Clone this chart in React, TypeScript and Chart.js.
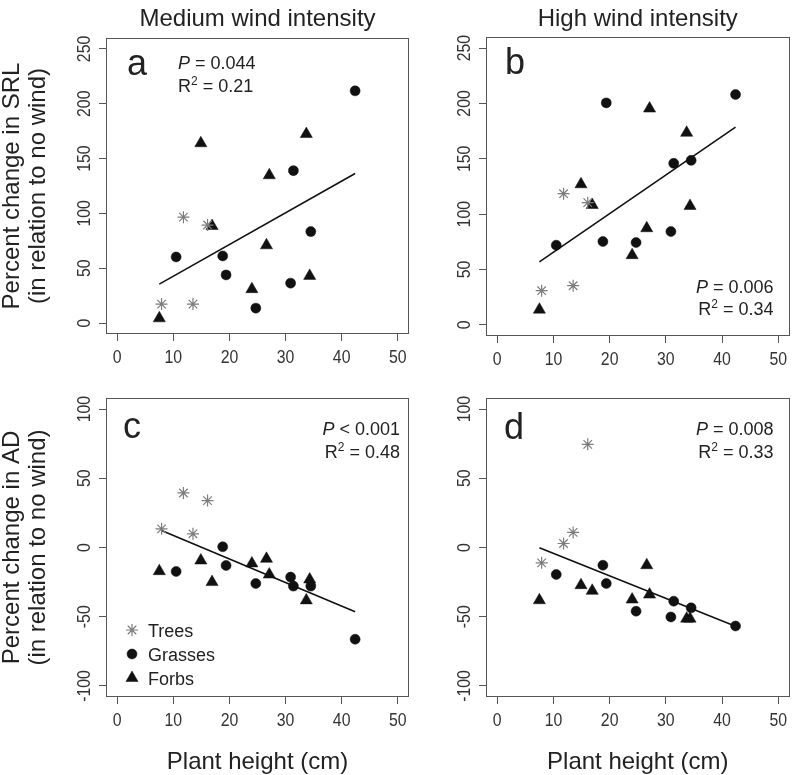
import React, { useEffect, useRef } from "react";
import { Chart, registerables } from "chart.js";
import { drawPoint } from "chart.js/helpers";

Chart.register(...registerables);

if (typeof document !== "undefined") document.body.style.margin = "0";

const W = 797;
const H = 775;

// ---------- data ----------
const xTicks = [0, 10, 20, 30, 40, 50];
const srlTicks = [0, 50, 100, 150, 200, 250];
const adTicks = [-100, -50, 0, 50, 100];

const treeHeight = [7.9, 11.8, 13.5, 16.1];
const grassHeight = [10.5, 18.8, 19.4, 24.7, 30.9, 31.4, 34.5, 42.4];
const forbHeight = [7.5, 14.9, 16.9, 24.0, 26.6, 27.1, 33.7, 34.3];

// a) SRL, medium wind
const srlMedTrees = [17.3, 96.6, 17.3, 89.4];
const srlMedGrasses = [60.3, 61.2, 43.9, 13.6, 36.4, 139, 83.4, 211.8];
const srlMedForbs = [4.3, 164, 88.5, 30.9, 70.9, 134.8, 172.4, 43];
const srlMedFitX = [7.5, 42.4];
const srlMedFitY = [35.5, 136.4];

// b) SRL, high wind
const srlHighTrees = [30.9, 118.5, 35.4, 110.4];
const srlHighGrasses = [72, 75.3, 200.5, 74.4, 84.3, 145.9, 148.6, 208];
const srlHighForbs = [13.8, 127, 108.3, 63, 87.3, 195.4, 173.5, 107.4];
const srlHighFitX = [7.5, 42.4];
const srlHighFitY = [57, 178.6];

// c) AD, medium wind
const adMedTrees = [13.5, 39.4, 9.9, 33.9];
const adMedGrasses = [-17.3, 0.5, -13, -26, -21.4, -27.9, -27.9, -66.3];
const adMedForbs = [-17.1, -9.4, -25, -11.5, -8.2, -19.5, -38.2, -23.1];
const adMedFitX = [7.9, 42.4];
const adMedFitY = [12.3, -46.4];

// d) AD, high wind
const adHighTrees = [-11.1, 2.9, 10.9, 74.5];
const adHighGrasses = [-19.5, -12.8, -26, -46, -50.2, -38.8, -43.6, -56.7];
const adHighForbs = [-38.1, -27.2, -31.3, -37.6, -12.8, -34, -51.4, -51.4];
const adHighFitX = [7.5, 42.4];
const adHighFitY = [-0.2, -56.9];

const groupLabels = ["Trees", "Grasses", "Forbs"];

// ---------- styling ----------
const FONT = "'Liberation Sans', Arial, Helvetica, sans-serif";
const TEXT = "#222";
const AXIS = "#555";
const TREE_COLOR = "#7d7d7d";
const DARK = "#111";
const TICK_SQUEEZE = 0.88;

type Area = { l: number; t: number; r: number; b: number };
type Panel = {
  area: Area;
  yMin: number;
  yMax: number;
  yTicks: number[];
  trees: number[];
  grasses: number[];
  forbs: number[];
  fitX: number[];
  fitY: number[];
  letter: string;
  letterOff: [number, number];
  pRel: string;
  pVal: string;
  r2: string;
  stats: { anchor: "left" | "right"; dx: number; fromBottom: boolean; dy1: number; dy2: number };
  colTitle?: string;
  yTitle?: string;
  xTitle?: string;
  legend?: boolean;
};

const panels: Panel[] = [
  {
    area: { l: 106, t: 38, r: 409, b: 334 },
    yMin: -10, yMax: 260, yTicks: srlTicks,
    trees: srlMedTrees, grasses: srlMedGrasses, forbs: srlMedForbs,
    fitX: srlMedFitX, fitY: srlMedFitY,
    letter: "a", letterOff: [21, 37],
    pRel: "=", pVal: "0.044", r2: "0.21",
    stats: { anchor: "left", dx: 72, fromBottom: false, dy1: 31, dy2: 54 },
    colTitle: "Medium wind intensity",
    yTitle: "Percent change in SRL",
  },
  {
    area: { l: 486, t: 37, r: 793, b: 336 },
    yMin: -10, yMax: 260, yTicks: srlTicks,
    trees: srlHighTrees, grasses: srlHighGrasses, forbs: srlHighForbs,
    fitX: srlHighFitX, fitY: srlHighFitY,
    letter: "b", letterOff: [19, 37],
    pRel: "=", pVal: "0.006", r2: "0.34",
    stats: { anchor: "right", dx: 16, fromBottom: true, dy1: 43, dy2: 21 },
    colTitle: "High wind intensity",
  },
  {
    area: { l: 106, t: 398, r: 409, b: 697 },
    yMin: -108, yMax: 108, yTicks: adTicks,
    trees: adMedTrees, grasses: adMedGrasses, forbs: adMedForbs,
    fitX: adMedFitX, fitY: adMedFitY,
    letter: "c", letterOff: [17, 40],
    pRel: "<", pVal: "0.001", r2: "0.48",
    stats: { anchor: "right", dx: 9, fromBottom: false, dy1: 37, dy2: 60 },
    yTitle: "Percent change in AD",
    xTitle: "Plant height (cm)",
    legend: true,
  },
  {
    area: { l: 486, t: 398, r: 793, b: 697 },
    yMin: -108, yMax: 108, yTicks: adTicks,
    trees: adHighTrees, grasses: adHighGrasses, forbs: adHighForbs,
    fitX: adHighFitX, fitY: adHighFitY,
    letter: "d", letterOff: [18, 41],
    pRel: "=", pVal: "0.008", r2: "0.33",
    stats: { anchor: "right", dx: 16, fromBottom: false, dy1: 37, dy2: 60 },
    xTitle: "Plant height (cm)",
  },
];

function f(size: number, style = "") {
  return `${style} ${size}px ${FONT}`.trim();
}

type Seg = { t: string; size: number; style?: string; rise?: number };

function drawSegs(ctx: CanvasRenderingContext2D, segs: Seg[], x: number, y: number, align: "left" | "right") {
  let total = 0;
  const widths = segs.map((s) => {
    ctx.font = f(s.size, s.style);
    const w = ctx.measureText(s.t).width;
    total += w;
    return w;
  });
  let cx = align === "left" ? x : x - total;
  ctx.textAlign = "left";
  ctx.textBaseline = "alphabetic";
  segs.forEach((s, i) => {
    ctx.font = f(s.size, s.style);
    ctx.fillText(s.t, cx, y - (s.rise || 0));
    cx += widths[i];
  });
}

function makePlugin(p: Panel) {
  return {
    id: "panelDecor",
    afterDraw(chart: any) {
      const ctx: CanvasRenderingContext2D = chart.ctx;
      const a = chart.chartArea;
      const xs = chart.scales.x;
      const ys = chart.scales.y;
      ctx.save();

      // box
      ctx.strokeStyle = AXIS;
      ctx.lineWidth = 1;
      ctx.strokeRect(Math.round(a.left) + 0.5, Math.round(a.top) + 0.5, Math.round(a.right - a.left) - 1, Math.round(a.bottom - a.top) - 1);

      // x tick labels (slightly condensed, like the original)
      ctx.fillStyle = "#333";
      ctx.font = f(18);
      ctx.textAlign = "center";
      ctx.textBaseline = "alphabetic";
      xs.ticks.forEach((t: any) => {
        ctx.save();
        ctx.translate(xs.getPixelForValue(t.value), a.bottom + 29);
        ctx.scale(TICK_SQUEEZE, 1);
        ctx.fillText(String(t.value), 0, 0);
        ctx.restore();
      });

      // y tick labels (rotated, R style)
      ys.ticks.forEach((t: any) => {
        ctx.save();
        ctx.translate(a.left - 16, ys.getPixelForValue(t.value));
        ctx.rotate(-Math.PI / 2);
        ctx.scale(TICK_SQUEEZE, 1);
        ctx.textAlign = "center";
        ctx.fillText(String(t.value), 0, 0);
        ctx.restore();
      });

      ctx.fillStyle = TEXT;

      // panel letter
      ctx.font = f(36);
      ctx.textAlign = "left";
      ctx.fillText(p.letter, a.left + p.letterOff[0], a.top + p.letterOff[1]);

      // stats
      const sx = p.stats.anchor === "left" ? a.left + p.stats.dx : a.right - p.stats.dx;
      const y1 = p.stats.fromBottom ? a.bottom - p.stats.dy1 : a.top + p.stats.dy1;
      const y2 = p.stats.fromBottom ? a.bottom - p.stats.dy2 : a.top + p.stats.dy2;
      drawSegs(ctx, [
        { t: "P", size: 18, style: "italic" },
        { t: ` ${p.pRel} ${p.pVal}`, size: 18 },
      ], sx, y1, p.stats.anchor);
      drawSegs(ctx, [
        { t: "R", size: 18 },
        { t: "2", size: 12, rise: 7 },
        { t: ` = ${p.r2}`, size: 18 },
      ], sx, y2, p.stats.anchor);

      const cxMid = (a.left + a.right) / 2;
      const cyMid = (a.top + a.bottom) / 2;

      // column title
      if (p.colTitle) {
        ctx.font = f(24);
        ctx.textAlign = "center";
        ctx.fillText(p.colTitle, cxMid, 26);
      }

      // y title
      if (p.yTitle) {
        ctx.font = f(24);
        ctx.save();
        ctx.translate(19, cyMid);
        ctx.rotate(-Math.PI / 2);
        ctx.textAlign = "center";
        ctx.fillText(p.yTitle, 0, 0);
        ctx.restore();
        ctx.save();
        ctx.translate(45, cyMid);
        ctx.rotate(-Math.PI / 2);
        ctx.textAlign = "center";
        ctx.fillText("(in relation to no wind)", 0, 0);
        ctx.restore();
      }

      // x title
      if (p.xTitle) {
        ctx.font = f(24);
        ctx.textAlign = "center";
        ctx.fillText(p.xTitle, cxMid, 769);
      }

      // legend
      if (p.legend) {
        const ds = chart.data.datasets;
        const rowsY = [a.bottom - 67, a.bottom - 43, a.bottom - 19];
        groupLabels.forEach((lab, i) => {
          const d = ds[i];
          ctx.save();
          ctx.fillStyle = d.backgroundColor;
          ctx.strokeStyle = d.borderColor;
          ctx.lineWidth = d.pointBorderWidth;
          drawPoint(ctx, { pointStyle: d.pointStyle, rotation: 0, radius: d.pointRadius, borderWidth: d.pointBorderWidth }, a.left + 26, rowsY[i]);
          ctx.restore();
          ctx.fillStyle = TEXT;
          ctx.font = f(18);
          ctx.textAlign = "left";
          ctx.fillText(lab, a.left + 42, rowsY[i] + 6.5);
        });
      }

      ctx.restore();
    },
  };
}

function buildConfig(p: Panel): any {
  const pts = (xsArr: number[], ysArr: number[]) => xsArr.map((x, i) => ({ x, y: ysArr[i] }));
  return {
    type: "scatter",
    data: {
      datasets: [
        {
          label: "Trees",
          data: pts(treeHeight, p.trees),
          pointStyle: "star",
          pointRadius: 6,
          pointBorderWidth: 1.2,
          borderColor: TREE_COLOR,
          backgroundColor: TREE_COLOR,
        },
        {
          label: "Grasses",
          data: pts(grassHeight, p.grasses),
          pointStyle: "circle",
          pointRadius: 5,
          pointBorderWidth: 0.5,
          borderColor: DARK,
          backgroundColor: DARK,
        },
        {
          label: "Forbs",
          data: pts(forbHeight, p.forbs),
          pointStyle: "triangle",
          pointRadius: 7,
          pointBorderWidth: 0.5,
          borderColor: DARK,
          backgroundColor: DARK,
        },
        {
          label: "fit",
          data: pts(p.fitX, p.fitY),
          showLine: true,
          pointRadius: 0,
          borderColor: DARK,
          borderWidth: 1.6,
          fill: false,
        },
      ],
    },
    options: {
      responsive: false,
      animation: false,
      events: [],
      layout: {
        padding: { left: p.area.l - 10, top: p.area.t, right: W - p.area.r, bottom: H - p.area.b - 10 },
      },
      plugins: {
        legend: { display: false },
        tooltip: { enabled: false },
        title: { display: false },
      },
      scales: {
        x: {
          type: "linear",
          min: -2,
          max: 52,
          afterBuildTicks: (s: any) => {
            s.ticks = xTicks.map((v) => ({ value: v }));
          },
          afterFit: (s: any) => {
            s.height = 10;
          },
          ticks: { display: false },
          border: { display: false },
          grid: { display: true, drawOnChartArea: false, drawTicks: true, tickLength: 7, tickColor: AXIS, tickWidth: 1, color: AXIS },
        },
        y: {
          type: "linear",
          min: p.yMin,
          max: p.yMax,
          afterBuildTicks: (s: any) => {
            s.ticks = p.yTicks.map((v) => ({ value: v }));
          },
          afterFit: (s: any) => {
            s.width = 10;
          },
          ticks: { display: false },
          border: { display: false },
          grid: { display: true, drawOnChartArea: false, drawTicks: true, tickLength: 7, tickColor: AXIS, tickWidth: 1, color: AXIS },
        },
      },
    },
    plugins: [makePlugin(p)],
  };
}

function PanelChart({ panel }: { panel: Panel }) {
  const ref = useRef<HTMLCanvasElement>(null);
  useEffect(() => {
    const chart = new Chart(ref.current as HTMLCanvasElement, buildConfig(panel));
    return () => chart.destroy();
  }, [panel]);
  return (
    <canvas
      ref={ref}
      width={W}
      height={H}
      style={{ position: "absolute", left: 0, top: 0, width: W, height: H }}
    />
  );
}

export default function App() {
  return (
    <div style={{ position: "relative", width: W, height: H, background: "#fff", overflow: "hidden" }}>
      {panels.map((p, i) => (
        <PanelChart key={i} panel={p} />
      ))}
    </div>
  );
}
